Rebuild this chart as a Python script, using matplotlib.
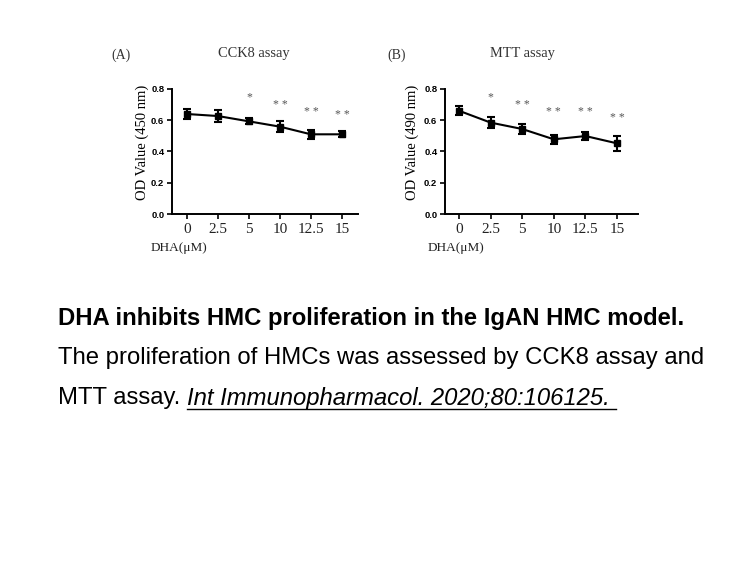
import numpy as np
import matplotlib.pyplot as plt
from matplotlib.lines import Line2D

# doses and values
doses = ['0', '2.5', '5', '10', '12.5', '15']
cck8_mean = [0.640, 0.627, 0.593, 0.559, 0.510, 0.510]
cck8_err = [0.032, 0.040, 0.020, 0.035, 0.030, 0.020]
cck8_stars = ['', '', '*', '* *', '* *', '* *']
cck8_star_y = [0, 0, 0.745, 0.700, 0.655, 0.636]

mtt_mean = [0.661, 0.585, 0.544, 0.478, 0.499, 0.452]
mtt_err = [0.030, 0.037, 0.030, 0.030, 0.025, 0.050]
mtt_stars = ['', '*', '* *', '* *', '* *', '* *']
mtt_star_y = [0, 0.745, 0.700, 0.653, 0.653, 0.617]

W, H = 756, 567
fig = plt.figure(figsize=(W / 100, H / 100), dpi=100)

def px(x0, y0, x1, y1):
    return [x0 / W, 1 - y1 / H, (x1 - x0) / W, (y1 - y0) / H]

serif = 'Liberation Serif'

def panel(rect, xlim, mean, err, stars, star_y, ylabel, labx, letter, title, lx, tx, dhax):
    ax = fig.add_axes(px(*rect))
    x = np.arange(len(doses))
    ax.errorbar(x, mean, yerr=err, color='black', lw=1.5, marker='s', ms=3.8,
                capsize=3, capthick=1.5, elinewidth=1.5)
    for i, s in enumerate(stars):
        if s:
            ax.text(i, star_y[i], s, ha='center', va='center', fontsize=8.5,
                    color='#555555', family=serif, clip_on=False)
    ax.set_xlim(*xlim)
    ax.set_ylim(0, 0.8)
    ax.set_yticks([0.0, 0.2, 0.4, 0.6, 0.8])
    ax.set_yticklabels(['0.0', '0.2', '0.4', '0.6', '0.8'], fontsize=6.8,
                       fontweight='bold', family='Liberation Sans')
    ax.set_xticks(x)
    ax.set_xticklabels(doses, fontsize=11, family=serif, color='#222222')
    for sp in ['top', 'right']:
        ax.spines[sp].set_visible(False)
    for sp in ['left', 'bottom']:
        ax.spines[sp].set_linewidth(1.4)
    ax.tick_params(direction='out', length=3.5, width=1.2, pad=2)
    ax.tick_params(axis='x', pad=3)
    ax.set_ylabel(ylabel, fontsize=10.5, family=serif, va='center')
    ax.yaxis.set_label_coords(labx, 0.572)
    fig.text(lx / W, 1 - 55 / H, letter, fontsize=10, family=serif,
             ha='left', va='center', color='#333333')
    fig.text(tx / W, 1 - 54 / H, title, fontsize=10.4, family=serif,
             ha='center', va='center', color='#333333')
    fig.text(dhax / W, 1 - 248 / H, 'DHA(μM)', fontsize=9.5, family=serif,
             ha='left', va='center', color='#222222')
    return ax

panel((172, 89, 358, 214), (-0.48, 5.52), cck8_mean, cck8_err, cck8_stars,
      cck8_star_y, 'OD Value (450 nm)', -0.161, '(A)', 'CCK8 assay', 111, 254, 151)
panel((445, 89, 638, 214), (-0.44, 5.66), mtt_mean, mtt_err, mtt_stars,
      mtt_star_y, 'OD Value (490 nm)', -0.171, '(B)', 'MTT assay', 387, 522, 428)

cap = 'Liberation Sans'
fs = 17.2
fig.text(58 / W, 1 - 319 / H, 'DHA inhibits HMC proliferation in the IgAN HMC model.',
         fontsize=fs, fontweight='bold', family=cap, ha='left', va='center')
fig.text(58 / W, 1 - 358 / H, 'The proliferation of HMCs was assessed by CCK8 assay and',
         fontsize=fs, family=cap, ha='left', va='center')
t1 = fig.text(58 / W, 1 - 398 / H, 'MTT assay. ', fontsize=fs, family=cap,
              ha='left', va='center')
fig.canvas.draw()
r = fig.canvas.get_renderer()
bb = t1.get_window_extent(r)
t2 = fig.text(bb.x1 / W, 1 - 398 / H, 'Int Immunopharmacol. 2020;80:106125. ',
              fontsize=fs, family=cap, style='italic', ha='left', va='center')
fig.canvas.draw()
bb2 = t2.get_window_extent(r)
yl = bb2.y0 / H + 0.001
fig.add_artist(Line2D([bb2.x0 / W, bb2.x1 / W], [yl, yl], color='black', lw=1.0))

fig.savefig('out.png', dpi=100)
